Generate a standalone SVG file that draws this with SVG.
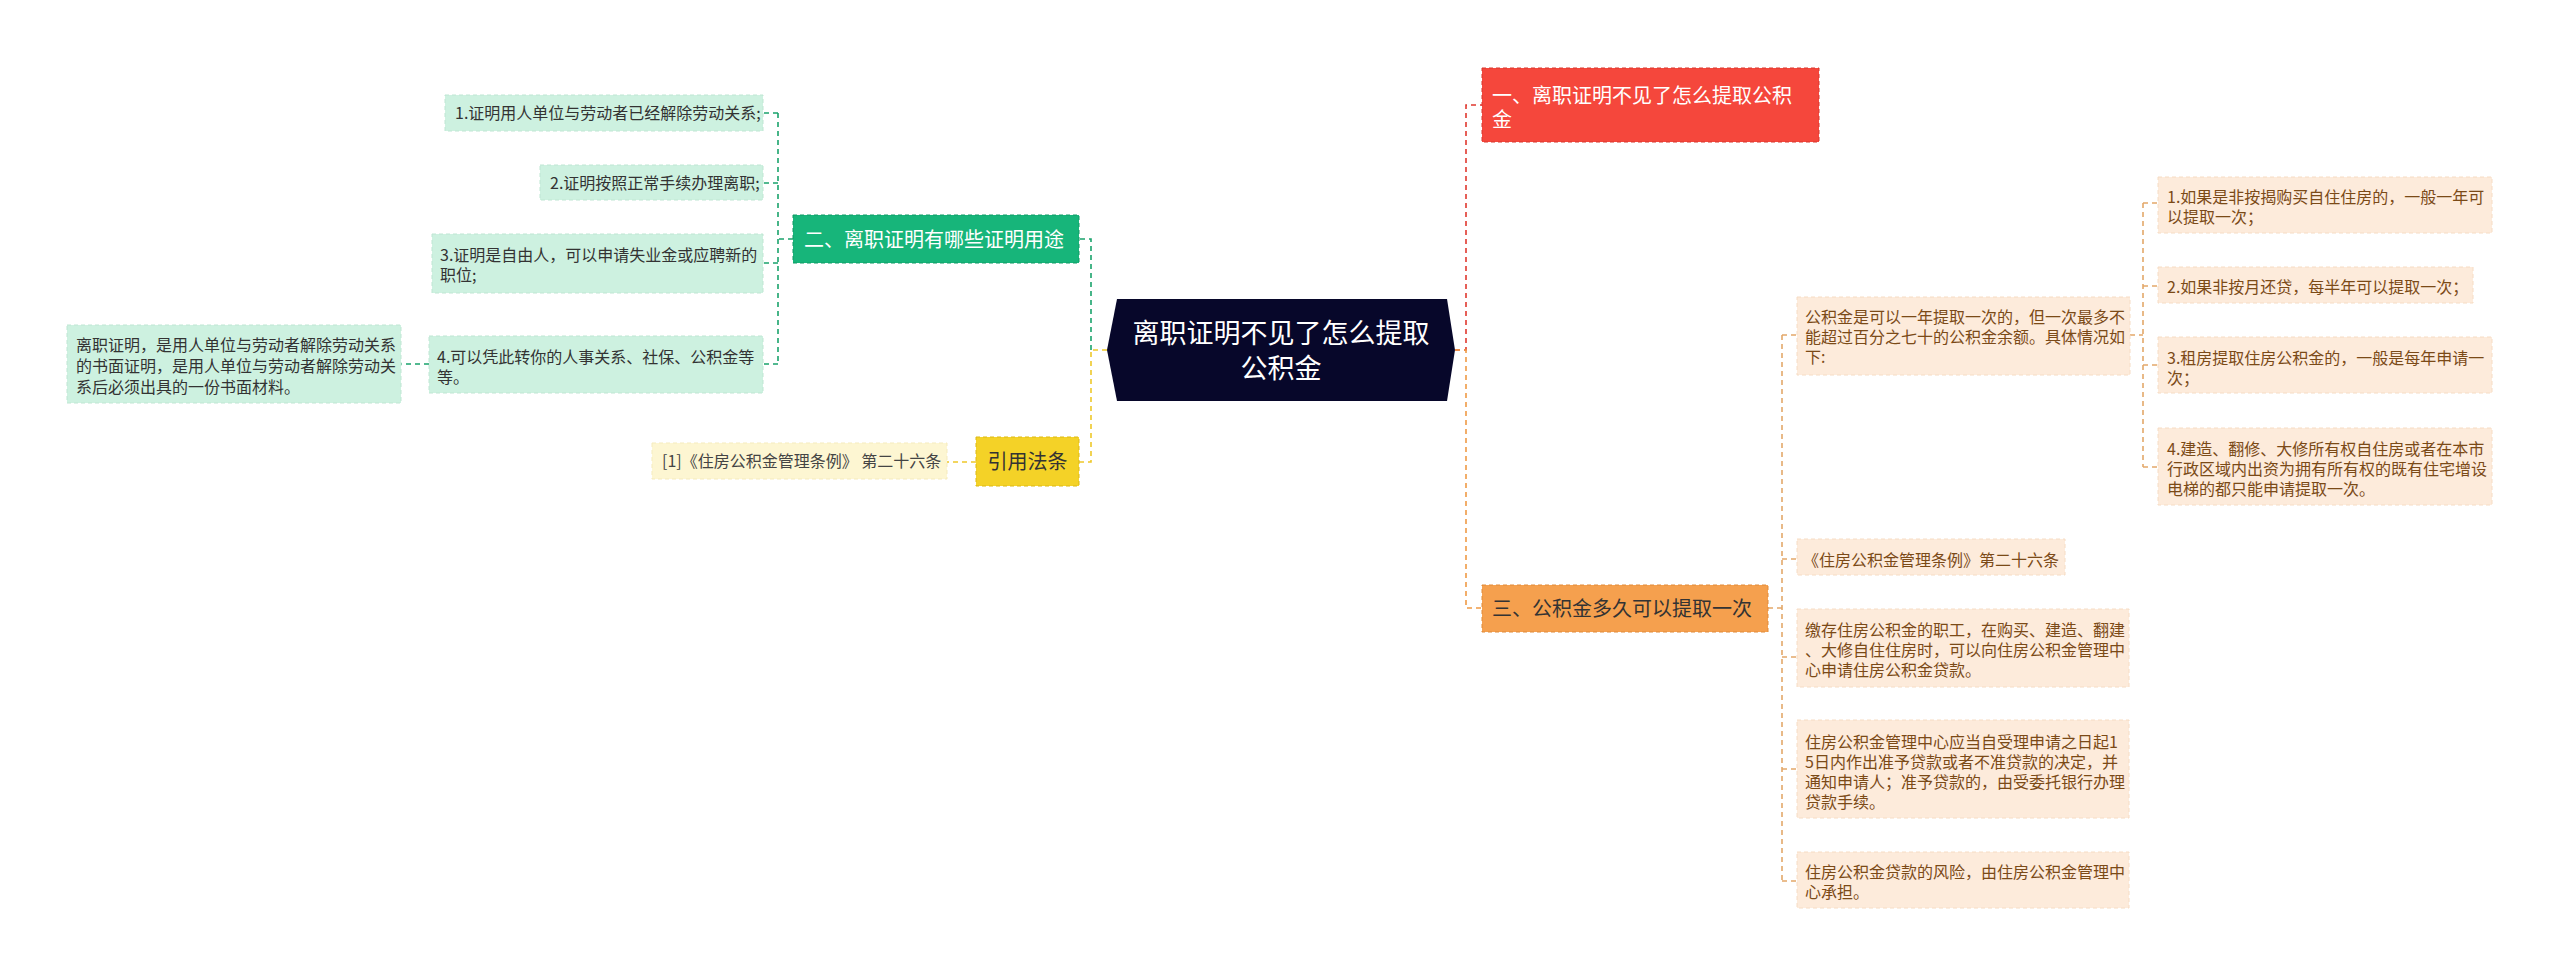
<svg xmlns="http://www.w3.org/2000/svg" width="2560" height="977" viewBox="0 0 2560 977">
<style>
text{font-family:"Noto Sans CJK SC","Liberation Sans",sans-serif;}
.c{fill:none;stroke-width:1.6;stroke-dasharray:5,4;}
.red{stroke:#e0382f;}
.org{stroke:#ef9a45;}
.grn{stroke:#1aa36c;}
.yel{stroke:#eec82a;}
.lorg{stroke:#e3a86a;}
.gbox{fill:#cdf1e0;stroke:#bfe6d3;stroke-dasharray:4,3;}
.obox{fill:#fdebdb;stroke:#f6dcc4;stroke-dasharray:4,3;}
.gt{font-size:16px;fill:#333333;}
.ot{font-size:16px;fill:#7b4a17;}
</style>
<rect width="2560" height="977" fill="#ffffff"/>
<g id="connectors">
<path class="c red" d="M1455,350 H1466 V105 H1482"/>
<path class="c org" d="M1455,350 H1466 V608 H1482"/>
<path class="c lorg" d="M1768,608 H1782 M1782,335 V881 M1782,335 H1797 M1782,559 H1797 M1782,657 H1797 M1782,769 H1797 M1782,881 H1797"/>
<path class="c lorg" d="M2130,335 H2143 M2143,203 V467 M2143,203 H2158 M2143,286 H2158 M2143,365 H2158 M2143,467 H2158"/>
<path class="c grn" d="M1091,350 V239 H1079"/>
<path class="c grn" d="M793,239 H778 M778,113 V364 M778,113 H763 M778,183 H763 M778,263 H763 M778,364 H763 M429,364 H401"/>
<path class="c yel" d="M1107,350 H1091 V462 H1079 M976,462 H947"/>
</g>
<g id="root">
<polygon points="1117,299 1447,299 1455,350 1447,401 1117,401 1107,350" fill="#07072a"/>
<text x="1281" y="343" font-size="27" fill="#ffffff" text-anchor="middle">离职证明不见了怎么提取</text>
<text x="1281" y="378" font-size="27" fill="#ffffff" text-anchor="middle">公积金</text>
</g>
<g id="branch1">
<rect x="1482" y="68" width="337" height="74" fill="#f5473c" stroke="#d8362c" stroke-dasharray="4,3"/>
<text x="1492" y="103" font-size="20" fill="#ffffff">一、离职证明不见了怎么提取公积</text>
<text x="1492" y="127" font-size="20" fill="#ffffff">金</text>
</g>
<g id="branch3">
<rect x="1482" y="585" width="286" height="47" fill="#f5a04e" stroke="#e08a38" stroke-dasharray="4,3"/>
<text x="1492" y="616" font-size="20" fill="#333333">三、公积金多久可以提取一次</text>
</g>
<g id="r-c1">
<rect class="obox" x="1797" y="297" width="333" height="78"/>
<text class="ot" x="1805" y="323">公积金是可以一年提取一次的，但一次最多不</text>
<text class="ot" x="1805" y="343">能超过百分之七十的公积金余额。具体情况如</text>
<text class="ot" x="1805" y="363">下:</text>
</g>
<g id="r-c1a">
<rect class="obox" x="2158" y="177" width="334" height="56"/>
<text class="ot" x="2167" y="203">1.如果是非按揭购买自住住房的，一般一年可</text>
<text class="ot" x="2167" y="223">以提取一次；</text>
</g>
<g id="r-c1b">
<rect class="obox" x="2158" y="267" width="315" height="36"/>
<text class="ot" x="2167" y="293">2.如果非按月还贷，每半年可以提取一次；</text>
</g>
<g id="r-c1c">
<rect class="obox" x="2158" y="337" width="334" height="56"/>
<text class="ot" x="2167" y="364">3.租房提取住房公积金的，一般是每年申请一</text>
<text class="ot" x="2167" y="384">次；</text>
</g>
<g id="r-c1d">
<rect class="obox" x="2158" y="428" width="334" height="77"/>
<text class="ot" x="2167" y="455">4.建造、翻修、大修所有权自住房或者在本市</text>
<text class="ot" x="2167" y="475">行政区域内出资为拥有所有权的既有住宅增设</text>
<text class="ot" x="2167" y="495">电梯的都只能申请提取一次。</text>
</g>
<g id="r-c2">
<rect class="obox" x="1797" y="539" width="268" height="36"/>
<text class="ot" x="1803" y="566">《住房公积金管理条例》第二十六条</text>
</g>
<g id="r-c3">
<rect class="obox" x="1797" y="609" width="332" height="78"/>
<text class="ot" x="1805" y="636">缴存住房公积金的职工，在购买、建造、翻建</text>
<text class="ot" x="1805" y="656">、大修自住住房时，可以向住房公积金管理中</text>
<text class="ot" x="1805" y="676">心申请住房公积金贷款。</text>
</g>
<g id="r-c4">
<rect class="obox" x="1797" y="720" width="332" height="98"/>
<text class="ot" x="1805" y="748">住房公积金管理中心应当自受理申请之日起1</text>
<text class="ot" x="1805" y="768">5日内作出准予贷款或者不准贷款的决定，并</text>
<text class="ot" x="1805" y="788">通知申请人；准予贷款的，由受委托银行办理</text>
<text class="ot" x="1805" y="808">贷款手续。</text>
</g>
<g id="r-c5">
<rect class="obox" x="1797" y="852" width="332" height="56"/>
<text class="ot" x="1805" y="878">住房公积金贷款的风险，由住房公积金管理中</text>
<text class="ot" x="1805" y="898">心承担。</text>
</g>
<g id="branch2">
<rect x="793" y="215" width="286" height="48" fill="#17b57a" stroke="#0f9a64" stroke-dasharray="4,3"/>
<text x="804" y="247" font-size="20" fill="#ffffff">二、离职证明有哪些证明用途</text>
</g>
<g id="l-c1">
<rect class="gbox" x="445" y="95" width="318" height="36"/>
<text class="gt" x="455" y="119">1.证明用人单位与劳动者已经解除劳动关系;</text>
</g>
<g id="l-c2">
<rect class="gbox" x="540" y="165" width="223" height="35"/>
<text class="gt" x="550" y="189">2.证明按照正常手续办理离职;</text>
</g>
<g id="l-c3">
<rect class="gbox" x="432" y="234" width="331" height="59"/>
<text class="gt" x="440" y="261">3.证明是自由人，可以申请失业金或应聘新的</text>
<text class="gt" x="440" y="281">职位;</text>
</g>
<g id="l-c4">
<rect class="gbox" x="429" y="336" width="334" height="57"/>
<text class="gt" x="437" y="363">4.可以凭此转你的人事关系、社保、公积金等</text>
<text class="gt" x="437" y="383">等。</text>
</g>
<g id="l-c4a">
<rect class="gbox" x="67" y="325" width="334" height="78"/>
<text class="gt" x="76" y="351">离职证明，是用人单位与劳动者解除劳动关系</text>
<text class="gt" x="76" y="372">的书面证明，是用人单位与劳动者解除劳动关</text>
<text class="gt" x="76" y="393">系后必须出具的一份书面材料。</text>
</g>
<g id="branch4">
<rect x="976" y="437" width="103" height="49" fill="#f4d227" stroke="#dcb915" stroke-dasharray="4,3"/>
<text x="1027.5" y="469" font-size="20" fill="#333333" text-anchor="middle">引用法条</text>
</g>
<g id="l-c5">
<rect x="652" y="443" width="295" height="36" fill="#fdf6d2" stroke="#f5ebbd" stroke-dasharray="4,3"/>
<text x="662" y="467" font-size="16" fill="#444444">[1]《住房公积金管理条例》 第二十六条</text>
</g>
</svg>
